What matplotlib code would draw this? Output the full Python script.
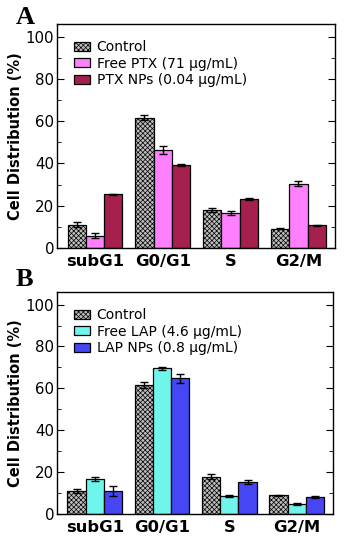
import numpy as np
import matplotlib.pyplot as plt

phases = ['subG1', 'G0/G1', 'S', 'G2/M']

# panel A
labels_a = ['Control', 'Free PTX (71 \u03bcg/mL)', 'PTX NPs (0.04 \u03bcg/mL)']
ctrl_a = [11.1, 61.7, 18.1, 9.1]
ctrl_a_err = [1.0, 1.2, 1.0, 0.3]
free_ptx = [5.9, 46.4, 16.7, 30.5]
free_ptx_err = [1.0, 2.0, 1.0, 1.2]
ptx_np = [25.4, 39.4, 23.2, 10.7]
ptx_np_err = [0.3, 0.5, 0.5, 0.4]

# panel B
labels_b = ['Control', 'Free LAP (4.6 \u03bcg/mL)', 'LAP NPs (0.8 \u03bcg/mL)']
ctrl_b = [11.0, 61.6, 17.9, 9.0]
ctrl_b_err = [0.8, 1.2, 1.0, 0.3]
free_lap = [16.8, 69.5, 8.6, 4.7]
free_lap_err = [1.0, 0.7, 0.5, 0.4]
lap_np = [11.0, 64.8, 15.4, 8.3]
lap_np_err = [2.3, 2.2, 1.0, 0.5]

plt.rcParams['font.family'] = ['DejaVu Sans']
plt.rcParams['hatch.color'] = '#8a8a8a'
plt.rcParams['hatch.linewidth'] = 0.5

fig = plt.figure(figsize=(3.51, 5.5), dpi=100)
ax_a = fig.add_axes([57/351, 1 - 248/550, 278/351, 224/550])
ax_b = fig.add_axes([57/351, 1 - 514/550, 276/351, 222/550])


def draw_panel(ax, series, errs, labels, colors, letter, letter_y):
    x = np.arange(len(phases))
    w = 0.27
    for i, (vals, e, lab, c) in enumerate(zip(series, errs, labels, colors)):
        hatch = 'xxxxxxx' if i == 0 else None
        ax.bar(x + (i - 1) * w, vals, w, yerr=e, color=c, edgecolor='black',
               linewidth=0.9, hatch=hatch, label=lab,
               error_kw=dict(ecolor='black', elinewidth=1.0, capsize=3, capthick=1.0))
    ax.set_xlim(-0.56, 3.54)
    ax.set_ylim(0, 106)
    ax.set_yticks([0, 20, 40, 60, 80, 100])
    ax.set_yticks(np.arange(10, 101, 20), minor=True)
    ax.set_xticks(x)
    ax.set_xticklabels(phases, fontsize=11.8, fontweight='bold')
    ax.tick_params(axis='x', length=0, pad=4)
    ax.tick_params(axis='y', which='both', direction='in', right=True, labelsize=10.8,
                   pad=2)
    ax.tick_params(axis='y', which='major', length=5)
    ax.tick_params(axis='y', which='minor', length=3)
    ax.set_ylabel('Cell Distribution (%)', fontsize=10.5, fontweight='bold', labelpad=2)
    ax.legend(loc='upper left', bbox_to_anchor=(0.03, 0.965), frameon=False,
              fontsize=10, handlelength=1.2, handleheight=0.65,
              handletextpad=0.45, labelspacing=0.18, borderaxespad=0.2)
    for s in ax.spines.values():
        s.set_linewidth(1.0)
    ax.text(-0.15, letter_y, letter, transform=ax.transAxes, fontsize=19,
            fontweight='bold', family='Liberation Serif', va='center', ha='left')


draw_panel(ax_a, [ctrl_a, free_ptx, ptx_np], [ctrl_a_err, free_ptx_err, ptx_np_err],
           labels_a, ['#bdbdbd', '#ff80ff', '#a5204e'], 'A', 1.03)
draw_panel(ax_b, [ctrl_b, free_lap, lap_np], [ctrl_b_err, free_lap_err, lap_np_err],
           labels_b, ['#bdbdbd', '#70f5ec', '#4646f5'], 'B', 1.055)

fig.savefig('out.png', dpi=100)
